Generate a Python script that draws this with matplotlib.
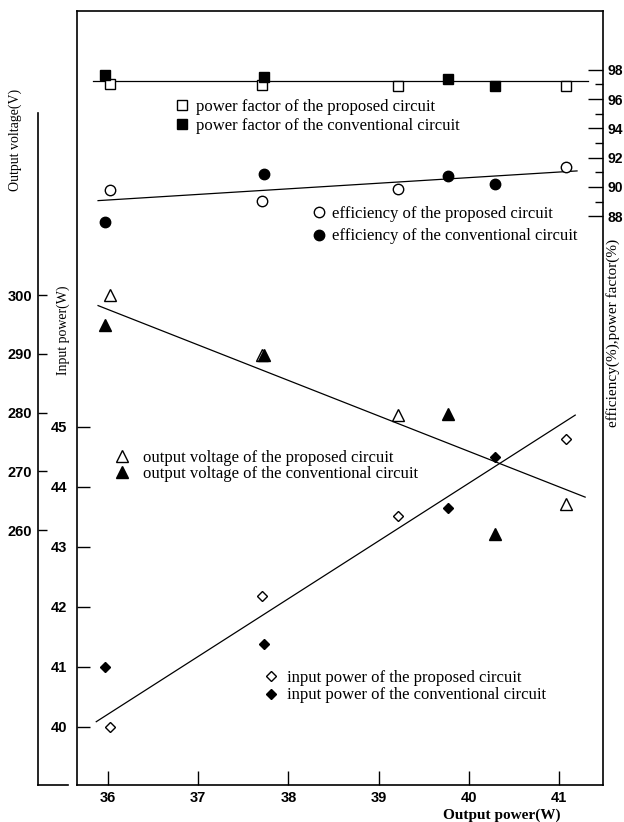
import matplotlib.pyplot as plt

plt.rcParams['font.family'] = ['Liberation Sans Narrow', 'Liberation Sans', 'DejaVu Sans']
plt.rcParams['font.weight'] = 'bold'
serif = ['Liberation Serif', 'DejaVu Serif']

# output power (W) of the measured points
power_prop = [36.02, 37.71, 39.21, 41.08]
power_conv = [35.97, 37.73, 39.77, 40.29]

# power factor (%)
pf_prop = [97.01, 96.96, 96.90, 96.90]
pf_conv = [97.65, 97.53, 97.35, 96.92]
# efficiency (%)
eff_prop = [89.79, 89.06, 89.86, 91.38]
eff_conv = [87.60, 90.86, 90.74, 90.20]
# output voltage (V)
volt_prop = [300.0, 289.8, 279.6, 264.5]
volt_conv = [294.9, 289.8, 279.7, 259.3]
# input power (W)
pin_prop = [40.00, 42.17, 43.51, 44.80]
pin_conv = [41.00, 41.37, 43.65, 44.50]

# fitted lines, end points as drawn
pf_fit_x, pf_fit_y = [35.83, 41.32], [97.26, 97.26]
eff_fit_x, eff_fit_y = [35.89, 41.20], [89.06, 91.09]
volt_fit_x, volt_fit_y = [35.89, 41.29], [298.2, 265.6]
pin_fit_x, pin_fit_y = [35.87, 41.18], [40.08, 45.19]

x_ticks = [36, 37, 38, 39, 40, 41]
pin_ticks = [40, 41, 42, 43, 44, 45]
volt_ticks = [260, 270, 280, 290, 300]
eff_ticks = [88, 90, 92, 94, 96, 98]
eff_minor = [89, 91, 93, 95, 97]

W, H = 624, 822
fig = plt.figure(figsize=(W / 100, H / 100), dpi=100)
L, R, T, B = 76.5, 603, 11, 785
ax = fig.add_axes([L / W, 1 - B / H, (R - L) / W, (B - T) / H])
ax_e = ax.twinx()
ax_v = ax.twinx()

ax.set_xlim(35.651, 41.488)
ax.set_ylim(39.025, 51.925)
ax_e.set_ylim(49.12, 102.02)
ax_v.set_ylim(216.6, 348.34)

# frame
for s in ['top', 'bottom', 'left']:
    ax.spines[s].set_linewidth(1.2)
ax.spines['right'].set_visible(False)
for s in ['top', 'bottom', 'left']:
    ax_e.spines[s].set_visible(False)
ax_e.spines['right'].set_linewidth(1.2)
for s in ['top', 'bottom', 'right']:
    ax_v.spines[s].set_visible(False)
ax_v.spines['left'].set_visible(True)
ax_v.spines['left'].set_position(('axes', -0.0731))
ax_v.spines['left'].set_bounds(216.6, 331)
ax_v.spines['left'].set_linewidth(1.2)
ax.plot([-0.0731, -0.017], [0, 0], transform=ax.transAxes, clip_on=False, color='k', lw=1.2)

ax.set_xticks(x_ticks)
ax.set_yticks(pin_ticks)
ax.tick_params(axis='x', direction='in', length=10, width=1, pad=4, labelsize=10.5, top=False)
ax.tick_params(axis='y', direction='in', length=9.4, width=1, pad=7, labelsize=10.5, right=False)

ax_e.set_yticks(eff_ticks)
ax_e.set_yticks(eff_minor, minor=True)
ax_e.tick_params(axis='y', which='major', direction='in', length=10.8, width=1, pad=3.6, labelsize=10)
ax_e.tick_params(axis='y', which='minor', direction='in', length=5.8, width=1)

ax_v.yaxis.set_ticks_position('left')
ax_v.yaxis.set_label_position('left')
ax_v.set_yticks(volt_ticks)
ax_v.tick_params(axis='y', direction='in', length=6.5, width=1, pad=4.3, labelsize=10.5)

mk_open = dict(ls='none', mfc='white', mec='black', mew=1.0)
mk_fill = dict(ls='none', mfc='black', mec='black', mew=1.0)
line_kw = dict(color='black', lw=0.9)

# power factor
ax_e.plot(pf_fit_x, pf_fit_y, **line_kw)
h_pf_p, = ax_e.plot(power_prop, pf_prop, marker='s', ms=7, **mk_open)
h_pf_c, = ax_e.plot(power_conv, pf_conv, marker='s', ms=7, **mk_fill)
# efficiency
ax_e.plot(eff_fit_x, eff_fit_y, **line_kw)
h_ef_p, = ax_e.plot(power_prop, eff_prop, marker='o', ms=7.5, **mk_open)
h_ef_c, = ax_e.plot(power_conv, eff_conv, marker='o', ms=7.5, **mk_fill)
# output voltage
ax_v.plot(volt_fit_x, volt_fit_y, **line_kw)
h_v_p, = ax_v.plot(power_prop, volt_prop, marker='^', ms=8, **mk_open)
h_v_c, = ax_v.plot(power_conv, volt_conv, marker='^', ms=8, **mk_fill)
# input power
ax.plot(pin_fit_x, pin_fit_y, **line_kw)
h_p_p, = ax.plot(power_prop, pin_prop, marker='D', ms=5.5, **mk_open)
h_p_c, = ax.plot(power_conv, pin_conv, marker='D', ms=5.5, **mk_fill)

FS = 12


def key(handles, labels, cx, cy, pitch, tx):
    fs = FS * 100 / 72
    row = fs * 0.983
    hl = 1.0
    fig.legend(handles, labels, loc='upper left',
               bbox_to_anchor=((cx - hl * fs / 2) / W, 1 - (cy - row / 2) / H),
               frameon=False, borderpad=0, borderaxespad=0, handlelength=hl,
               handletextpad=(tx - cx - hl * fs / 2) / fs,
               labelspacing=(pitch - row) / fs, numpoints=1,
               prop=dict(family=serif, size=FS, weight='normal'))


key([h_pf_p, h_pf_c], ['power factor of the proposed circuit',
                       'power factor of the conventional circuit'], 182, 107, 19.3, 196)
key([h_ef_p, h_ef_c], ['efficiency of the proposed circuit',
                       'efficiency of the conventional circuit'], 319, 214, 23, 332)
key([h_v_p, h_v_c], ['output voltage of the proposed circuit',
                     'output voltage of the conventional circuit'], 122, 458, 16.8, 143)
key([h_p_p, h_p_c], ['input power of the proposed circuit',
                     'input power of the conventional circuit'], 271, 678, 18, 287)

fig.text(15 / W, 1 - 140 / H, 'Output voltage(V)', rotation=90, ha='center', va='center',
         family=serif, size=10, weight='normal')
fig.text(63 / W, 1 - 330 / H, 'Input power(W)', rotation=90, ha='center', va='center',
         family=serif, size=10, weight='normal')
fig.text(613 / W, 1 - 333 / H, 'efficiency(%),power factor(%)', rotation=90, ha='center',
         va='center', family=serif, size=11, weight='normal')
fig.text(502 / W, 1 - 815 / H, 'Output power(W)', ha='center', va='center',
         family=serif, size=11, weight='bold')

fig.savefig('out.png', dpi=100)
